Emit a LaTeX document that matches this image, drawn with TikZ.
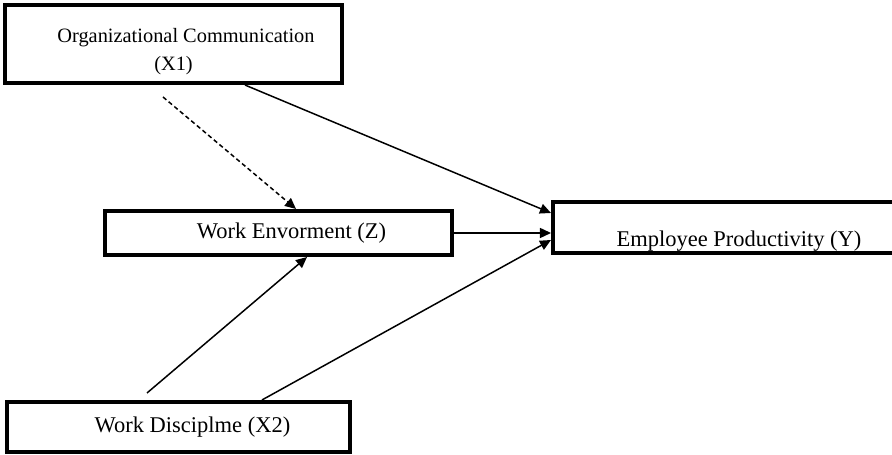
\documentclass[tikz,border=0pt]{standalone}
\usepackage{fontspec}
\setmainfont{Liberation Serif}
\usetikzlibrary{arrows.meta}

\begin{document}
\begin{tikzpicture}[x=0.02cm,y=-0.02cm,
    varbox/.style={draw,line width=2.3pt,inner sep=0pt,align=center,
        font=\fontsize{12.8}{15}\selectfont},
    path/.style={line width=0.85pt,-{Triangle[length=0.22cm,width=0.2cm]}}]
            {
    \useasboundingbox (0,0) rectangle (892,455);
    \clip (0,0) rectangle (892,455);

    \node[varbox,minimum width=337*0.02cm,minimum height=78*0.02cm,
        font=\fontsize{11.6}{15.9}\selectfont,text height=33pt,text depth=2.5pt] (x1) at (173.5,44)
        {\hspace*{0.5cm}Organizational Communication\\(X1)};
    \node[varbox,minimum width=347*0.02cm,minimum height=44*0.02cm] (z) at (278.5,233)
        {\hspace*{0.52cm}Work Envorment (Z)};
    \node[varbox,minimum width=372*0.02cm,minimum height=51*0.02cm,
        text height=0.78cm,text depth=0pt] (y) at (739,227.5)
        {Employee Productivity (Y)};
    \node[varbox,minimum width=343*0.02cm,minimum height=50*0.02cm] (x2) at (178.5,427)
        {\hspace*{0.56cm}Work Disciplme (X2)};

    \coordinate (dstart) at (163,97);
    \coordinate (ustart) at (147,393);

    \draw[path,dash pattern=on 2.5pt off 1.7pt] (dstart) -- ([xshift=0.35cm]z.north);
    \draw[path] ([xshift=1.43cm]x1.south) -- ([yshift=0.29cm]y.west);
    \draw[path] (z.east) -- (z.east -| y.west);
    \draw[path] ([xshift=1.67cm]x2.north) -- ([yshift=-0.25cm]y.west);
    \draw[path] (ustart) -- ([xshift=0.57cm]z.south);
}
\end{tikzpicture}
\end{document}
